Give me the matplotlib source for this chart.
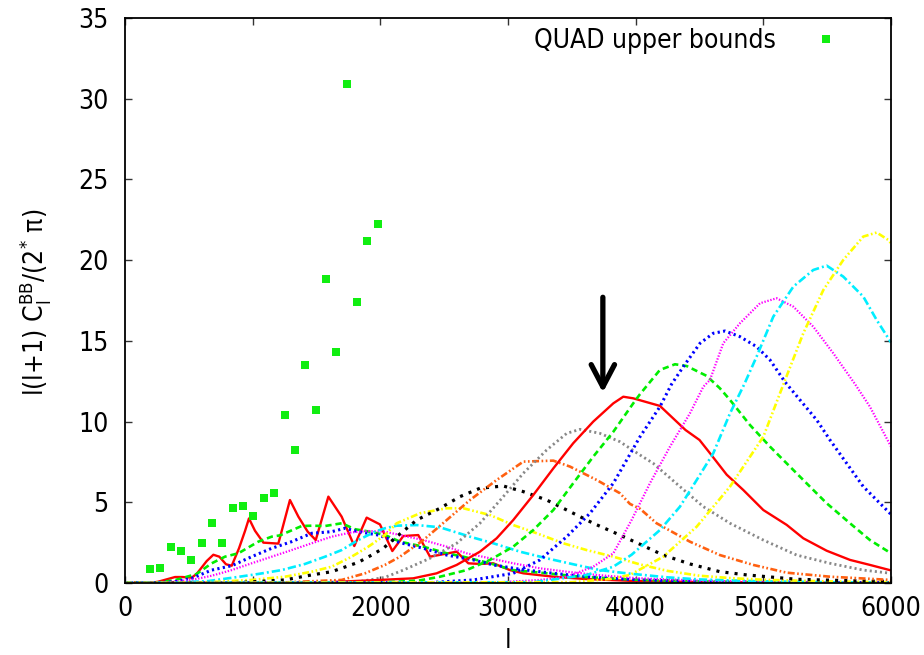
import matplotlib
matplotlib.use("Agg")
import matplotlib.pyplot as plt

plt.rcParams['font.family'] = ['DejaVu Sans']
plt.rcParams['font.stretch'] = 'condensed'
plt.rcParams['mathtext.default'] = 'regular'
plt.rcParams['lines.scale_dashes'] = False

# ---------------- data ----------------
quad_l = [196, 277, 358, 439, 520, 600, 681, 762, 843, 924, 1005, 1086, 1167,
          1251, 1332, 1413, 1494, 1574, 1655, 1736, 1817, 1898, 1982]
quad_v = [0.87, 0.91, 2.23, 2.0, 1.42, 2.48, 3.74, 2.46, 4.67, 4.77, 4.17, 5.25, 5.58,
          10.39, 8.22, 13.5, 10.72, 18.85, 14.31, 30.9, 17.4, 21.2, 22.26]

a1_l = [0, 200, 260, 392, 450, 522, 561, 640, 692, 739, 791, 836, 893, 940, 971, 1018,
        1084, 1201, 1292, 1358, 1431, 1494, 1593, 1697, 1796, 1893, 1997, 2094, 2180,
        2297, 2389, 2598, 2689, 2780, 2885, 3015, 3120, 3355, 3600, 4000, 4500, 5000,
        5500, 6000]
a1_v = [0, 0, 0.08, 0.37, 0.37, 0.33, 0.56, 1.36, 1.75, 1.63, 1.16, 1.07, 2.15, 3.22,
        4.0, 3.24, 2.5, 2.44, 5.14, 4.11, 3.18, 2.66, 5.35, 4.11, 2.29, 4.05, 3.63, 1.98,
        2.91, 2.97, 1.63, 1.94, 1.22, 1.18, 1.22, 0.8, 0.6, 0.39, 0.25, 0.12, 0.06, 0.03,
        0.02, 0.01]

b1_l = [0, 250, 392, 561, 679, 783, 888, 1044, 1149, 1214, 1384, 1462, 1567, 1697, 1802,
        1932, 2036, 2154, 2337, 2520, 2650, 2859, 3041, 3303, 3564, 4000, 4500, 5000,
        5500, 6000]
b1_v = [0, 0.02, 0.18, 0.56, 1.22, 1.63, 1.84, 2.56, 2.87, 2.95, 3.53, 3.55, 3.53, 3.7,
        3.33, 3.16, 2.97, 2.56, 2.25, 1.84, 1.63, 1.22, 0.8, 0.6, 0.39, 0.2, 0.1, 0.05,
        0.03, 0.02]

c1_l = [0, 250, 392, 522, 679, 836, 992, 1149, 1305, 1462, 1619, 1723, 1827, 1984, 2154,
        2337, 2520, 2728, 2885, 3094, 3355, 3616, 4000, 4500, 5000, 5500, 6000]
c1_v = [0, 0.02, 0.08, 0.29, 0.8, 1.07, 1.63, 2.15, 2.56, 3.08, 3.18, 3.39, 3.18, 2.97,
        2.5, 2.15, 1.73, 1.43, 1.12, 0.85, 0.6, 0.39, 0.2, 0.1, 0.05, 0.03, 0.02]

d1_l = [0, 300, 522, 679, 836, 992, 1149, 1305, 1462, 1619, 1775, 1906, 2036, 2154, 2337,
        2520, 2676, 2859, 3041, 3250, 3460, 3695, 4000, 4500, 5000, 5500, 6000]
d1_v = [0, 0.03, 0.19, 0.45, 0.8, 1.22, 1.63, 2.04, 2.46, 2.87, 3.14, 3.22, 3.18, 2.97,
        2.66, 2.25, 1.84, 1.53, 1.22, 0.91, 0.7, 0.5, 0.3, 0.15, 0.07, 0.04, 0.02]

e1_l = [0, 400, 653, 862, 1044, 1227, 1410, 1567, 1697, 1827, 1958, 2036, 2128, 2285,
        2467, 2702, 2885, 3094, 3303, 3511, 3720, 3929, 4250, 4500, 5000, 5500, 6000]
e1_v = [0, 0.03, 0.12, 0.35, 0.56, 0.8, 1.18, 1.63, 2.04, 2.66, 3.18, 3.39, 3.55, 3.59,
        3.45, 2.87, 2.46, 1.94, 1.53, 1.16, 0.8, 0.6, 0.35, 0.22, 0.1, 0.05, 0.03]

f1_l = [0, 600, 992, 1253, 1462, 1619, 1775, 1906, 2036, 2128, 2311, 2520, 2650, 2859,
        3041, 3225, 3433, 3616, 3825, 4034, 4250, 4500, 4750, 5000, 5500, 6000]
f1_v = [0, 0.03, 0.19, 0.39, 0.7, 1.01, 1.63, 2.25, 2.97, 3.7, 4.32, 4.63, 4.63, 4.21,
        3.59, 3.08, 2.46, 2.04, 1.63, 1.15, 0.75, 0.45, 0.3, 0.2, 0.1, 0.05]

g1_l = [0, 900, 1253, 1462, 1619, 1827, 1932, 2023, 2128, 2285, 2467, 2624, 2780, 2963,
        3120, 3303, 3486, 3668, 3877, 4034, 4216, 4425, 4660, 4870, 5261, 5783, 6000]
g1_v = [0, 0.03, 0.19, 0.5, 0.7, 1.28, 1.73, 2.15, 2.87, 3.9, 4.63, 5.35, 5.87, 6.01,
        5.66, 5.14, 4.42, 3.7, 2.97, 2.4, 1.73, 1.18, 0.7, 0.5, 0.23, 0.12, 0.1]

h1_l = [0, 1200, 1697, 1880, 2036, 2154, 2337, 2520, 2702, 2911, 3120, 3355, 3486, 3695,
        3877, 3955, 4034, 4164, 4425, 4660, 4921, 5183, 5522, 6000]
h1_v = [0, 0.02, 0.19, 0.6, 1.12, 1.63, 2.66, 3.9, 5.14, 6.38, 7.52, 7.58, 7.21, 6.38,
        5.56, 4.9, 4.6, 3.7, 2.56, 1.73, 1.12, 0.64, 0.39, 0.19]

i1_l = [0, 1500, 1827, 2036, 2180, 2389, 2598, 2780, 2963, 3120, 3303, 3460, 3564, 3720,
        3877, 4034, 4138, 4347, 4530, 4739, 5000, 5261, 5522, 5783, 6000]
i1_v = [0, 0.02, 0.08, 0.35, 0.8, 1.53, 2.46, 3.7, 5.35, 6.8, 8.24, 9.27, 9.52, 9.27,
        8.75, 7.93, 7.41, 5.97, 4.73, 3.7, 2.66, 1.73, 1.22, 0.8, 0.6]

a2_l = [0, 1500, 1997, 2258, 2441, 2598, 2780, 2911, 3041, 3198, 3355, 3511, 3668, 3825,
        3903, 3981, 4190, 4390, 4500, 4582, 4713, 4843, 5000, 5183, 5313, 5496, 5679,
        5835, 6000]
a2_v = [0, 0.02, 0.19, 0.29, 0.6, 1.12, 1.94, 2.77, 3.9, 5.45, 7.1, 8.66, 10.0, 11.13,
        11.54, 11.44, 10.97, 9.48, 8.86, 8.04, 6.71, 5.76, 4.52, 3.6, 2.77, 2.0, 1.43,
        1.12, 0.78]

b2_l = [0, 2000, 2300, 2467, 2676, 2859, 3041, 3198, 3355, 3511, 3668, 3825, 3981, 4034,
        4190, 4308, 4400, 4556, 4660, 4739, 4895, 5052, 5183, 5365, 5496, 5679, 5835, 6000]
b2_v = [0, 0.03, 0.15, 0.39, 0.8, 1.43, 2.25, 3.28, 4.52, 6.18, 7.83, 9.37, 11.13, 11.7,
        13.2, 13.55, 13.44, 12.83, 12.06, 11.34, 9.79, 8.45, 7.41, 5.97, 4.94, 3.7, 2.66,
        1.84]

c2_l = [0, 2400, 2728, 3041, 3250, 3460, 3642, 3825, 4034, 4190, 4280, 4373, 4504, 4608,
        4700, 4817, 4947, 5052, 5170, 5287, 5418, 5522, 5653, 5783, 5888, 6000]
c2_v = [0, 0.03, 0.19, 0.6, 1.43, 2.87, 4.32, 6.18, 9.06, 10.92, 12.3, 13.4, 14.85, 15.47,
        15.61, 15.26, 14.64, 13.82, 12.45, 11.34, 10.1, 8.86, 7.41, 5.97, 5.14, 4.25]

d2_l = [0, 2900, 3250, 3460, 3668, 3825, 3968, 4112, 4269, 4425, 4530, 4582, 4686, 4817,
        4974, 5104, 5235, 5391, 5548, 5720, 5835, 6000]
d2_v = [0, 0.03, 0.19, 0.39, 1.01, 1.84, 3.9, 6.18, 8.45, 10.51, 12.16, 12.58, 14.85,
        16.09, 17.33, 17.64, 17.12, 15.88, 14.23, 12.3, 10.92, 8.45]

e2_l = [0, 3200, 3616, 3825, 3968, 4190, 4347, 4478, 4608, 4739, 4850, 4947, 5078, 5235,
        5391, 5496, 5626, 5783, 5888, 6000]
e2_v = [0, 0.05, 0.5, 1.01, 1.75, 3.28, 4.73, 6.38, 8.04, 10.51, 12.3, 14.02, 16.5,
        18.36, 19.39, 19.66, 18.98, 17.74, 16.29, 14.9]

f2_l = [0, 3500, 3800, 3955, 4216, 4478, 4739, 5000, 5157, 5313, 5470, 5626, 5783, 5888,
        5979, 6000]
f2_v = [0, 0.05, 0.25, 0.5, 1.63, 3.49, 5.97, 9.06, 12.3, 15.47, 18.15, 20.01, 21.46,
        21.71, 21.25, 21.05]

arrow_l = 3743
arrow_from, arrow_to = 17.7, 11.8

legend_label = "QUAD upper bounds"
x_ticks = [0, 1000, 2000, 3000, 4000, 5000, 6000]
y_ticks = [0, 5, 10, 15, 20, 25, 30, 35]

# ---------------- styles ----------------
RED, GREEN, BLUE, MAG, CYAN, YEL, BLK, ORG, GRY = (
    '#ff0000', '#00ee00', '#0000ff', '#ff00ff', '#00eeff', '#ffff00', '#000000',
    '#ff6010', '#888888')
solid = (0, ())
dashed = (0, (4.5, 2.8))
dotb = (0, (1.6, 2.4))
dotm = (0, (1.0, 1.2))
dashdot = (0, (6.0, 2.2, 1.4, 2.2))
dashdotdot = (0, (5.0, 1.8, 1.2, 1.8, 1.2, 1.8))
dotk = (0, (2.2, 4.4))
dotg = (0, (1.5, 2.2))

curves = [
    (a1_l, a1_v, RED, solid, 1.7),
    (b1_l, b1_v, GREEN, dashed, 1.9),
    (c1_l, c1_v, BLUE, dotb, 2.2),
    (d1_l, d1_v, MAG, dotm, 1.6),
    (e1_l, e1_v, CYAN, dashdot, 1.9),
    (f1_l, f1_v, YEL, dashdotdot, 1.9),
    (g1_l, g1_v, BLK, dotk, 2.3),
    (h1_l, h1_v, ORG, dashdotdot, 1.9),
    (i1_l, i1_v, GRY, dotg, 2.0),
    (a2_l, a2_v, RED, solid, 1.7),
    (b2_l, b2_v, GREEN, dashed, 1.9),
    (c2_l, c2_v, BLUE, dotb, 2.2),
    (d2_l, d2_v, MAG, dotm, 1.6),
    (e2_l, e2_v, CYAN, dashdot, 1.9),
    (f2_l, f2_v, YEL, dashdotdot, 1.9),
]

fig = plt.figure(figsize=(9.24, 6.55), dpi=100)
ax = fig.add_axes([125 / 924, 1 - 583 / 655, (891 - 125) / 924, (583 - 18) / 655])

sq, = ax.plot(quad_l, quad_v, linestyle='none', marker='s', markersize=6.4,
              color='#11ee11', markeredgewidth=0, label=legend_label, zorder=3)

for l, v, c, ls, lw in curves:
    ax.plot(l, v, color=c, linestyle=ls, linewidth=lw, zorder=2)

ax.annotate('', xy=(arrow_l, arrow_to), xytext=(arrow_l, arrow_from),
            arrowprops=dict(arrowstyle='->,head_length=0.8,head_width=0.42',
                            lw=3.8, color='black', mutation_scale=20,
                            shrinkA=0, shrinkB=0), zorder=5)

ax.set_xlim(0, 6000)
ax.set_ylim(0, 35)
ax.set_xticks(x_ticks)
ax.set_yticks(y_ticks)
ax.tick_params(direction='in', length=5, width=1.0, top=True, right=True,
               labelsize=19, color='#333333')
ax.tick_params(axis='x', pad=9)
ax.tick_params(axis='y', pad=12)
for s in ax.spines.values():
    s.set_linewidth(1.3)
    s.set_color('black')

fig.text(35 / 924, 1 - 302 / 655, r"l(l+1) C$_{l}^{BB}$/(2$^{*}$ π)", rotation=90,
         ha='center', va='center', fontsize=19)
fig.text(508 / 924, 1 - 641 / 655, "l", ha='center', va='center', fontsize=19)

fs_px = 19 * 100 / 72
ax.legend(handles=[sq], loc='center right', markerfirst=False, frameon=False,
          fontsize=19, borderpad=0, borderaxespad=0, handlelength=2.0,
          handletextpad=0.9,
          bbox_to_anchor=((826 + fs_px) / 924, 1 - 41 / 655),
          bbox_transform=fig.transFigure)

fig.savefig('out.png', dpi=100)
